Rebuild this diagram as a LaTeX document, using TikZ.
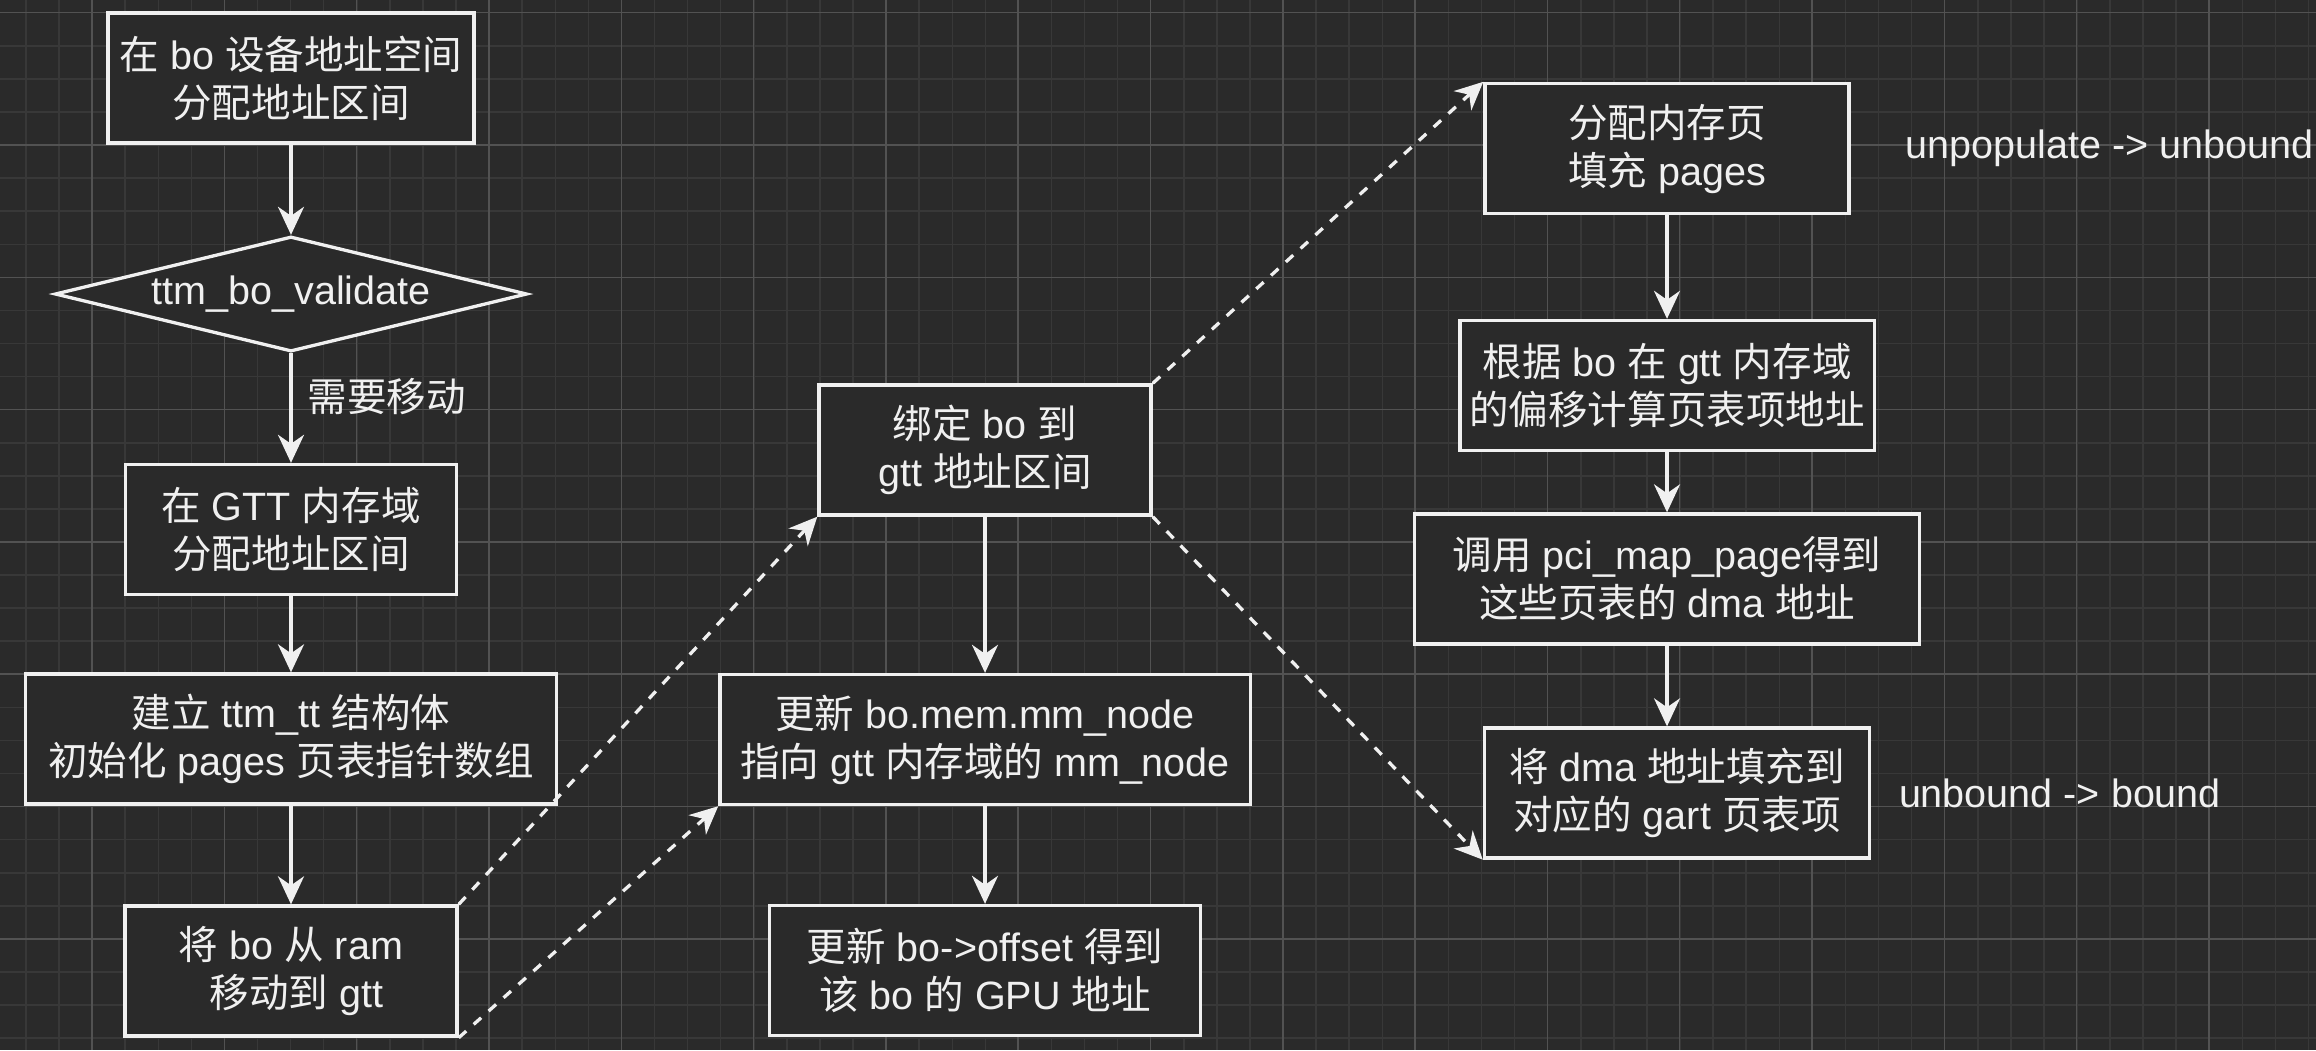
\documentclass[tikz,border=0pt]{standalone}
\usepackage{fontspec}
\setmainfont{Liberation Sans}
\newfontfamily\cjkfont{Noto Sans CJK SC}
\newcommand{\zh}[1]{{\cjkfont #1}}
\usetikzlibrary{arrows.meta}
\usetikzlibrary{shapes.geometric,positioning}
\definecolor{bg}{HTML}{2A2A2A}
\definecolor{gridminor}{HTML}{383838}
\definecolor{gridmajor}{HTML}{525252}
\definecolor{fg}{HTML}{F0F0F0}

\begin{document}
\begin{tikzpicture}[x=0.01cm,y=-0.01cm,
    >={Stealth[length=2.8mm,width=2.6mm,inset=0.9mm]},
    txt/.style={text=fg,font=\fontsize{11.24}{13.66}\selectfont},
    flowbox/.style={txt,rectangle,draw=fg,fill=bg,line width=0.033cm,align=center,inner sep=0pt,minimum height=1.3cm},
    decision/.style={txt,diamond,draw=fg,fill=bg,line width=0.033cm,aspect=4.1,inner sep=0pt,minimum width=4.72cm,minimum height=1.15cm},
    lbl/.style={txt,inner sep=0pt},
    flow/.style={draw=fg,line width=0.033cm},
    dashline/.style={flow,dash pattern=on 0.1cm off 0.1cm}]
            \fill[bg] (0,0) rectangle (2316,1050);
            \useasboundingbox (0,0) rectangle (2316,1050);
            \foreach \i in {0,...,69} \draw[gridminor,line width=0.015cm] ({26+33.08*\i},0) -- ({26+33.08*\i},1050);
            \foreach \i in {0,...,31} \draw[gridminor,line width=0.015cm] (0,{12.7+33.08*\i}) -- (2316,{12.7+33.08*\i});
            \foreach \i in {0,...,16} \draw[gridmajor,line width=0.015cm] ({92.1+132.3*\i},0) -- ({92.1+132.3*\i},1050);
            \foreach \i in {0,...,7} \draw[gridmajor,line width=0.015cm] (0,{12.7+132.3*\i}) -- (2316,{12.7+132.3*\i});

            \node[flowbox,minimum width=3.66cm] (alloc) at (291,78) {\zh{在} bo \zh{设备地址空间}\\\zh{分配地址区间}};
            \node[decision] (valid) at (291,294) {ttm\_bo\_validate};
            \node[flowbox,minimum width=3.31cm] (gttdom) at (291,529.5) {\zh{在} GTT \zh{内存域}\\\zh{分配地址区间}};
            \node[flowbox,minimum width=5.30cm] (ttmtt) at (291,739) {\zh{建立} ttm\_tt \zh{结构体}\\\zh{初始化} pages \zh{页表指针数组}};
            \node[flowbox,minimum width=3.32cm] (move) at (291,971) {\zh{将} bo \zh{从} ram\\~\zh{移动到} gtt};

            \node[flowbox,minimum width=3.32cm] (bind) at (985,450) {\zh{绑定} bo \zh{到}\\gtt \zh{地址区间}};
            \node[flowbox,minimum width=5.30cm] (mmnode) at (985,739.5) {\zh{更新} bo.mem.mm\_node\\\zh{指向} gtt \zh{内存域的} mm\_node};
            \node[flowbox,minimum width=4.31cm] (offset) at (985,970.5) {\zh{更新} bo->offset \zh{得到}\\\zh{该} bo \zh{的} GPU \zh{地址}};

            \node[flowbox,minimum width=3.64cm] (pages) at (1667,148.5) {\zh{分配内存页}\\\zh{填充} pages};
            \node[flowbox,minimum width=4.14cm] (pte) at (1667,385.5) {\zh{根据} bo \zh{在} gtt \zh{内存域}\\\zh{的偏移计算页表项地址}};
            \node[flowbox,minimum width=5.05cm] (dma) at (1667,579) {\zh{调用} pci\_map\_page\zh{得到}\\\zh{这些页表的} dma \zh{地址}};
            \node[flowbox,minimum width=3.85cm] (gart) at (1677,793) {\zh{将} dma \zh{地址填充到}\\\zh{对应的} gart \zh{页表项}};

            \node[lbl,right=0.54cm of pages] (unpop) {unpopulate -> unbound};
            \node[lbl,right=0.27cm of gart] (bound) {unbound -> bound};

            \draw [->,flow] (alloc) -- (valid);
            \draw [->,flow] (valid) -- node[lbl,right=0.15cm,pos=0.4] {\zh{需要移动}} (gttdom);
            \draw [->,flow] (gttdom) -- (ttmtt);
            \draw [->,flow] (ttmtt) -- (move);
            \draw [->,dashline] (move.north east) -- (bind.south west);
            \draw [->,dashline] (move.south east) -- (mmnode.south west);
            \draw [->,flow] (bind) -- (mmnode);
            \draw [->,flow] (mmnode) -- (offset);
            \draw [->,dashline] (bind.north east) -- (pages.north west);
            \draw [->,dashline] (bind.south east) -- (gart.south west);
            \draw [->,flow] (pages) -- (pte);
            \draw [->,flow] (pte) -- (dma);
            \draw [->,flow] (dma) -- (dma |- gart.north);
          \end{tikzpicture}
\end{document}
